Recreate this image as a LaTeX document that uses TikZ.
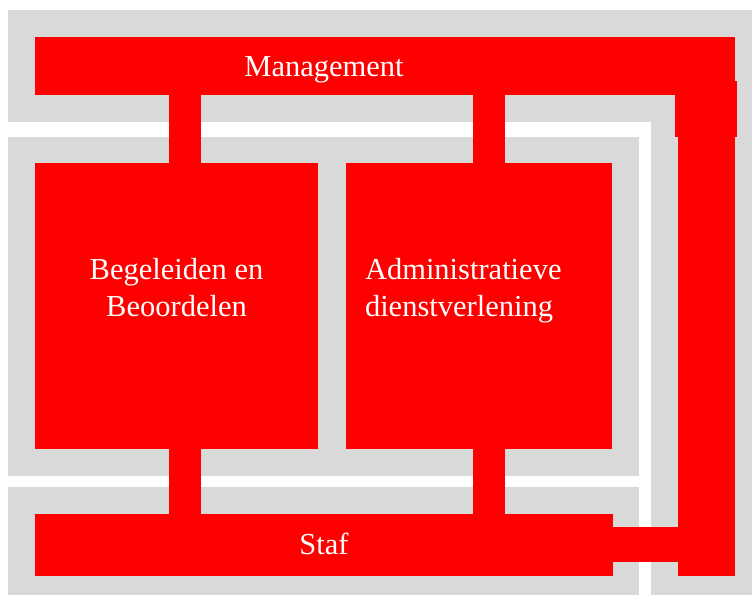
\documentclass[tikz,border=0pt]{standalone}
\usepackage{fontspec}
\setmainfont{Liberation Serif}
\usetikzlibrary{positioning,calc}

\definecolor{panel}{HTML}{D9D9D9}
\definecolor{unitred}{HTML}{FF0000}

\begin{document}
\begin{tikzpicture}[x=1pt, y=-1pt,
  unit/.style = {
    fill=unitred, inner sep=0pt, text=white,
    font=\fontsize{30.5}{37}\selectfont,
  },
  caption/.style = {
    inner sep=0pt, text=white,
    font=\fontsize{30.5}{37}\selectfont,
  },
  link/.style = {draw=unitred, line width=32pt, line cap=butt},
]
  \useasboundingbox (0,0) rectangle (752,595);

  % grey panels behind the units
  \fill[panel] (8,10) rectangle (752,121.5);
  \fill[panel] (651,10) rectangle (752,595);
  \fill[panel] (8,137) rectangle (639,475.5);
  \fill[panel] (8,487) rectangle (639,595);

  % units
  \node[unit, minimum width=578pt, minimum height=58pt,
        text height=20pt, text depth=0pt] (mgmt) at (324,66) {Management};
  \node[unit, minimum width=283pt, minimum height=286pt] (begel) at (176.5,306) {};
  \node[unit, minimum width=266pt, minimum height=286pt] (admin) at (479,306) {};
  \node[unit, minimum width=578pt, minimum height=62pt,
        text height=20pt, text depth=1pt] (staf) at (324,545) {Staf};
  \node[unit, minimum width=57pt, minimum height=439pt] (riser) at (706.5,356.5) {};

  \node[caption, align=center] (begel-text) at ($(begel)+(0,-18)$)
    {Begeleiden en\\Beoordelen};
  \node[caption, align=left, anchor=west] (admin-text) at ($(admin.west)+(19,-15.5)$)
    {Administratieve\\dienstverlening};

  % top bar runs on into the riser
  \fill[unitred] (mgmt.north east) rectangle (riser.east |- mgmt.south);
  \fill[unitred] ($(riser.north west)+(-3,-56)$) rectangle ($(riser.north east)+(2,0)$);

  % links
  \foreach \dept/\dx in {begel/8.5,admin/10} {
    \draw[link] ($(mgmt.south -| \dept.north)+(\dx,0)$) -- ($(\dept.north)+(\dx,0)$);
    \draw[link] ($(\dept.south)+(\dx,0)$) -- ($(staf.north -| \dept.south)+(\dx,0)$);
  }
  \draw[link, line width=35pt] ($(staf.east)+(0,-0.5)$) -- ($(staf.east -| riser.west)+(0,-0.5)$);
\end{tikzpicture}
\end{document}
